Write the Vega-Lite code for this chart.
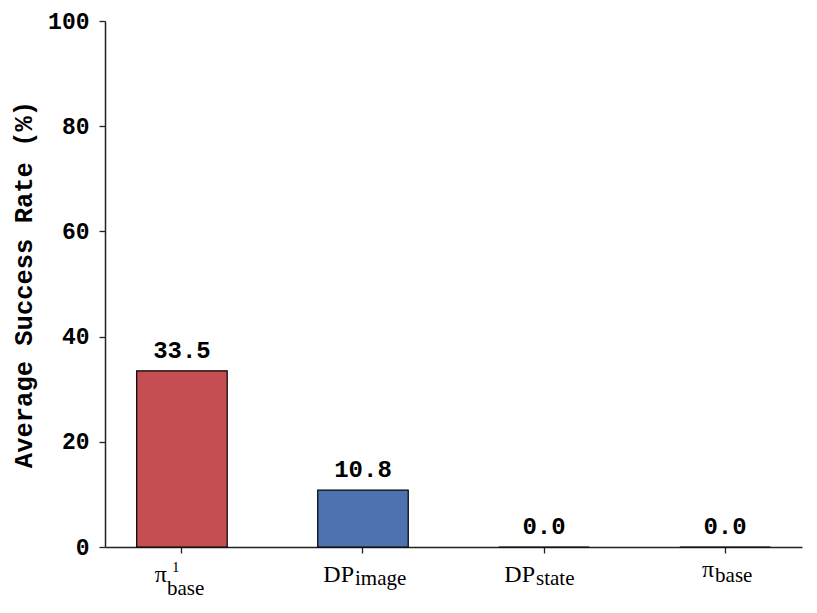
{
  "$schema": "https://vega.github.io/schema/vega-lite/v6.json",
  "description": "Average success rate per policy, bar chart.",
  "autosize": {"type": "none"},
  "padding": {"left": 105, "top": 21, "right": 15, "bottom": 66},
  "width": 697,
  "height": 526,
  "background": "white",
  "data": {
    "values": [
      {"policy": "pi1_base", "rate": 33.5, "main": "π", "sub": "base", "sup": "1"},
      {"policy": "DP_image", "rate": 10.8, "main": "DP", "sub": "image", "sup": ""},
      {"policy": "DP_state", "rate": 0.0, "main": "DP", "sub": "state", "sup": ""},
      {"policy": "pi_base", "rate": 0.0, "main": "π", "sub": "base", "sup": ""}
    ]
  },
  "encoding": {
    "x": {
      "field": "policy",
      "type": "nominal",
      "sort": null,
      "scale": {"paddingInner": 0.5, "paddingOuter": 0.175},
      "axis": {
        "title": null,
        "labels": false,
        "ticks": true,
        "tickSize": 6,
        "tickColor": "#222",
        "tickWidth": 1.3,
        "domainColor": "#222",
        "domainWidth": 1.5
      }
    }
  },
  "layer": [
    {
      "mark": {"type": "bar", "stroke": "black", "strokeWidth": 1.2},
      "encoding": {
        "y": {
          "field": "rate",
          "type": "quantitative",
          "scale": {"domain": [0, 100], "nice": false},
          "axis": {
            "values": [0, 20, 40, 60, 80, 100],
            "grid": false,
            "title": "Average Success Rate (%)",
            "titleFont": "Liberation Mono",
            "titleFontSize": 25.5,
            "titleFontWeight": "bold",
            "titleColor": "black",
            "titlePadding": 11,
            "labelFont": "Liberation Mono",
            "labelFontSize": 23,
            "labelFontWeight": "bold",
            "labelColor": "black",
            "labelPadding": 10,
            "tickSize": 6,
            "tickColor": "#222",
            "tickWidth": 1.3,
            "domainColor": "#222",
            "domainWidth": 1.5
          }
        },
        "color": {
          "field": "policy",
          "type": "nominal",
          "legend": null,
          "scale": {
            "domain": ["pi1_base", "DP_image", "DP_state", "pi_base"],
            "range": ["#c44e52", "#4c72b0", "#55a868", "#8172b2"]
          }
        }
      }
    },
    {
      "mark": {"type": "text", "baseline": "alphabetic", "dy": -13, "font": "Liberation Mono", "fontSize": 24, "fontWeight": "bold", "color": "black"},
      "encoding": {
        "y": {"field": "rate", "type": "quantitative"},
        "text": {"field": "rate", "type": "quantitative", "format": ".1f"}
      }
    },
    {
      "transform": [{"filter": "datum.main === 'DP'"}],
      "mark": {"type": "text", "align": "right", "baseline": "alphabetic", "dx": -9, "dy": 35, "font": "Liberation Serif", "fontSize": 24, "color": "black"},
      "encoding": {"y": {"datum": 0, "type": "quantitative"}, "text": {"field": "main"}}
    },
    {
      "transform": [{"filter": "datum.main === 'DP'"}],
      "mark": {"type": "text", "align": "left", "baseline": "alphabetic", "dx": -8, "dy": 38, "font": "Liberation Serif", "fontSize": 21, "color": "black"},
      "encoding": {"y": {"datum": 0, "type": "quantitative"}, "text": {"field": "sub"}}
    },
    {
      "transform": [{"filter": "datum.policy === 'pi_base'"}],
      "mark": {"type": "text", "align": "right", "baseline": "alphabetic", "dx": -11, "dy": 30, "font": "Liberation Serif", "fontSize": 24, "color": "black"},
      "encoding": {"y": {"datum": 0, "type": "quantitative"}, "text": {"field": "main"}}
    },
    {
      "transform": [{"filter": "datum.policy === 'pi_base'"}],
      "mark": {"type": "text", "align": "left", "baseline": "alphabetic", "dx": -10, "dy": 35, "font": "Liberation Serif", "fontSize": 21, "color": "black"},
      "encoding": {"y": {"datum": 0, "type": "quantitative"}, "text": {"field": "sub"}}
    },
    {
      "transform": [{"filter": "datum.policy === 'pi1_base'"}],
      "mark": {"type": "text", "align": "right", "baseline": "alphabetic", "dx": -15, "dy": 35, "font": "Liberation Serif", "fontSize": 24, "color": "black"},
      "encoding": {"y": {"datum": 0, "type": "quantitative"}, "text": {"field": "main"}}
    },
    {
      "transform": [{"filter": "datum.policy === 'pi1_base'"}],
      "mark": {"type": "text", "align": "left", "baseline": "alphabetic", "dx": -15, "dy": 48, "font": "Liberation Serif", "fontSize": 21, "color": "black"},
      "encoding": {"y": {"datum": 0, "type": "quantitative"}, "text": {"field": "sub"}}
    },
    {
      "transform": [{"filter": "datum.policy === 'pi1_base'"}],
      "mark": {"type": "text", "align": "left", "baseline": "alphabetic", "dx": -10, "dy": 25, "font": "Liberation Serif", "fontSize": 15, "color": "black"},
      "encoding": {"y": {"datum": 0, "type": "quantitative"}, "text": {"field": "sup"}}
    }
  ],
  "config": {
    "view": {"stroke": null}
  }
}
